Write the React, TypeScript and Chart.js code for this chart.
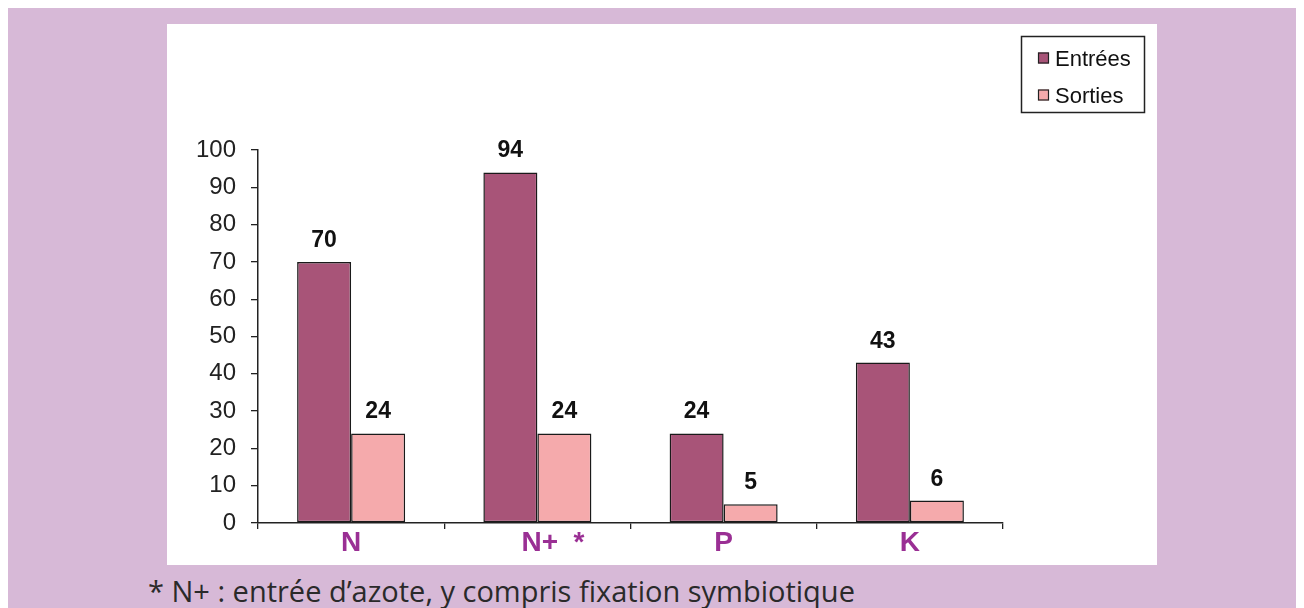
import React, { useEffect, useRef } from "react";
import { Chart, registerables } from "chart.js";

Chart.register(...registerables);

const categories = ["N", "    N+  *", "P", "K"];
const entrees = [70, 94, 24, 43];
const sorties = [24, 24, 5, 6];
const seriesNames = ["Entrées", "Sorties"];
const yTicks = [0, 10, 20, 30, 40, 50, 60, 70, 80, 90, 100];
const footnote = "* N+ : entrée d’azote, y compris fixation symbiotique";

const COLORS = ["#a85478", "#f5aaac"];
const FONT = "'Liberation Sans', Arial, sans-serif";

const legendPlugin = {
  id: "boxLegend",
  afterDraw(chart: any) {
    const ctx = chart.ctx;
    ctx.save();
    ctx.lineWidth = 1.5;
    ctx.strokeStyle = "#222";
    ctx.strokeRect(854.5, 12.5, 123, 76);
    chart.data.datasets.forEach((ds: any, i: number) => {
      const cy = 34 + i * 37;
      ctx.fillStyle = ds.backgroundColor;
      ctx.fillRect(871, cy - 5.5, 11, 11);
      ctx.lineWidth = 1.2;
      ctx.strokeStyle = "#222";
      ctx.strokeRect(871.5, cy - 5, 10, 10);
      ctx.fillStyle = "#111";
      ctx.font = `22px ${FONT}`;
      ctx.textAlign = "left";
      ctx.textBaseline = "middle";
      ctx.fillText(ds.label, 888, cy + 1.5);
    });
    ctx.restore();
  },
};

const valueLabelPlugin = {
  id: "valueLabels",
  afterDatasetsDraw(chart: any) {
    const ctx = chart.ctx;
    ctx.save();
    ctx.font = `bold 23px ${FONT}`;
    ctx.fillStyle = "#111";
    ctx.textAlign = "center";
    ctx.textBaseline = "alphabetic";
    chart.data.datasets.forEach((ds: any, i: number) => {
      const meta = chart.getDatasetMeta(i);
      meta.data.forEach((bar: any, j: number) => {
        ctx.fillText(String(ds.data[j]), bar.x, bar.y - 15);
      });
    });
    ctx.restore();
  },
};

export default function App() {
  const ref = useRef<HTMLCanvasElement>(null);

  useEffect(() => {
    document.body.style.overflow = "hidden";
    const chart = new Chart(ref.current!, {
      type: "bar",
      data: {
        labels: categories,
        datasets: [
          {
            label: seriesNames[0],
            data: entrees,
            backgroundColor: COLORS[0],
            borderColor: "#1a1a1a",
            borderWidth: 1.5,
            borderSkipped: false,
            categoryPercentage: 0.58,
            barPercentage: 1,
          },
          {
            label: seriesNames[1],
            data: sorties,
            backgroundColor: COLORS[1],
            borderColor: "#1a1a1a",
            borderWidth: 1.5,
            borderSkipped: false,
            categoryPercentage: 0.58,
            barPercentage: 1,
          },
        ],
      },
      options: {
        responsive: false,
        animation: false,
        devicePixelRatio: 1,
        layout: { padding: { top: 126, right: 154, left: 0, bottom: 0 } },
        plugins: { legend: { display: false }, tooltip: { enabled: false } },
        scales: {
          x: {
            grid: {
              drawOnChartArea: false,
              drawTicks: true,
              tickLength: 6,
              color: "#222",
              lineWidth: 1.3,
              offset: true,
            },
            border: { display: true, color: "#222", width: 1.5 },
            ticks: {
              font: { family: FONT, size: 28, weight: "bold" },
              color: "#9a2f94",
              padding: -3,
              maxRotation: 0,
            },
            afterFit: (s: any) => {
              s.height = 42;
            },
          },
          y: {
            min: 0,
            max: 100,
            afterBuildTicks: (s: any) => {
              s.ticks = yTicks.map((v) => ({ value: v }));
            },
            grid: {
              drawOnChartArea: false,
              drawTicks: true,
              tickLength: 7,
              color: "#222",
              lineWidth: 1.3,
            },
            border: { display: true, color: "#222", width: 1.5 },
            ticks: {
              font: { family: FONT, size: 24 },
              color: "#222",
              padding: 15,
            },
            afterFit: (s: any) => {
              s.width = 91;
            },
          },
        },
      },
      plugins: [legendPlugin, valueLabelPlugin],
    } as any);
    return () => chart.destroy();
  }, []);

  return (
    <div
      style={{
        position: "relative",
        width: 1296,
        height: 600,
        background: "#d7b9d7",
        overflow: "hidden",
      }}
    >
      <div
        style={{
          position: "absolute",
          left: 159,
          top: 16,
          width: 990,
          height: 541,
          background: "#fff",
        }}
      >
        <canvas ref={ref} width={990} height={541} style={{ display: "block" }} />
      </div>
      <div
        style={{
          position: "absolute",
          left: 140,
          top: 568,
          fontFamily: "'Open Sans', 'Noto Sans', sans-serif",
          fontSize: 29,
          lineHeight: 1,
          color: "#2a2a2a",
          whiteSpace: "nowrap",
        }}
      >
        {footnote}
      </div>
    </div>
  );
}
